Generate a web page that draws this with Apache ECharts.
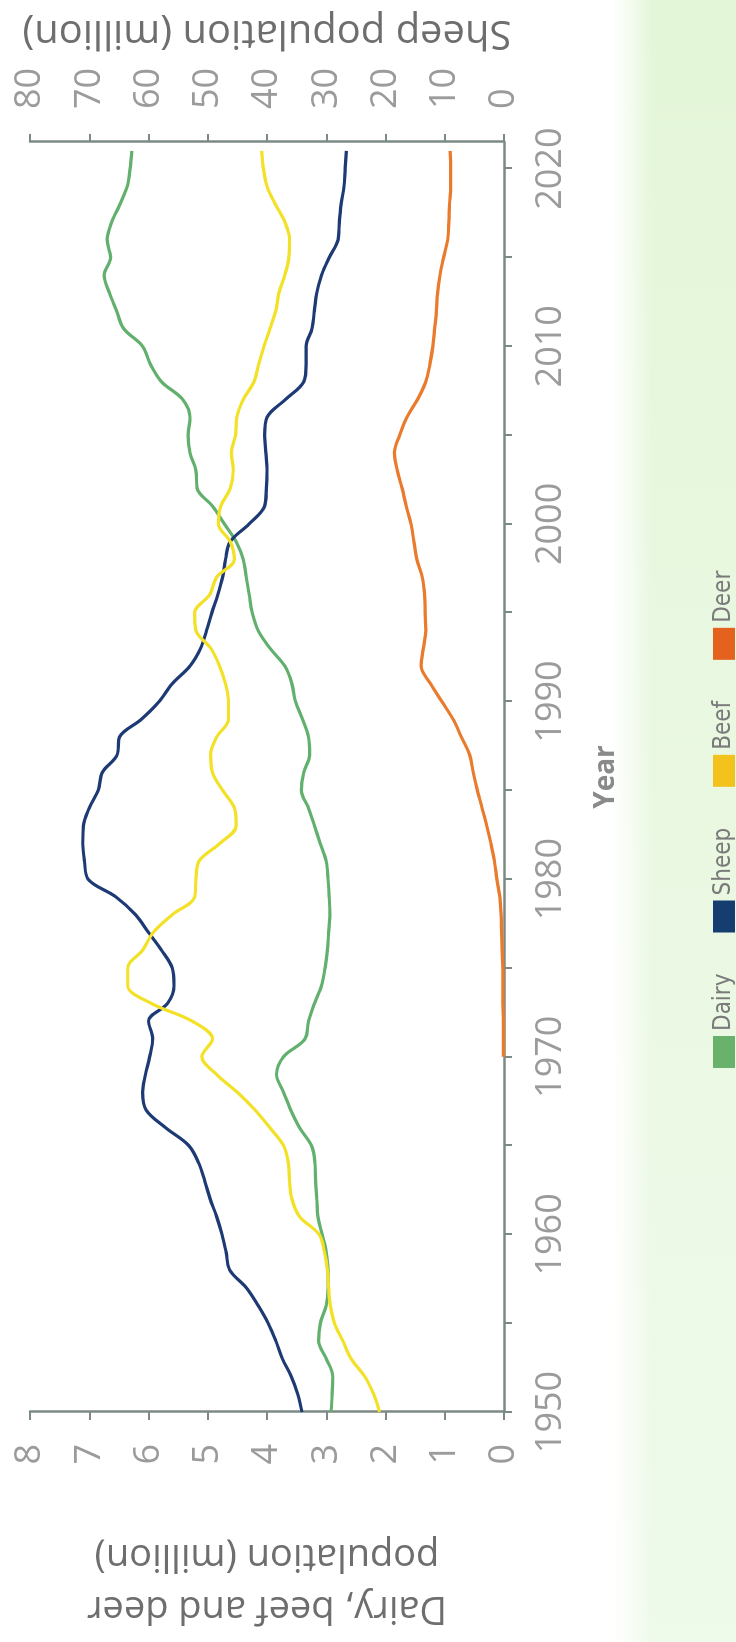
<!DOCTYPE html>
<html>
<head>
<meta charset="utf-8">
<script src="https://cdn.jsdelivr.net/npm/echarts@6/dist/echarts.min.js"></script>
<style>
  html, body { margin: 0; padding: 0; width: 736px; height: 1642px; overflow: hidden; background: #ffffff; }
  #chart { position: absolute; left: 0; top: 0; width: 1642px; height: 736px;
           transform-origin: 0 0; transform: translate(0px, 1642px) rotate(-90deg); }
</style>
</head>
<body>
<div id="chart"></div>
<script>
// ---- data (NZ livestock, million head) ----
const firstYear = 1950;
const yearTicks  = [1950, 1955, 1960, 1965, 1970, 1975, 1980, 1985, 1990, 1995, 2000, 2005, 2010, 2015, 2020];
const yearLabels = [1950, 1960, 1970, 1980, 1990, 2000, 2010, 2020];
const leftTicks  = [0, 1, 2, 3, 4, 5, 6, 7, 8];
const rightTicks = [0, 10, 20, 30, 40, 50, 60, 70, 80];

const dairy = [
  2.92, 2.90, 2.89, 3.00, 3.13, 3.10, 3.00, 2.97, 2.97, 3.00,
  3.07, 3.14, 3.16, 3.18, 3.19, 3.25, 3.45, 3.60, 3.72, 3.84,
  3.72, 3.36, 3.30, 3.20, 3.08, 3.02, 2.98, 2.96, 2.94, 2.95,
  2.97, 3.00, 3.10, 3.20, 3.30, 3.42, 3.38, 3.28, 3.30, 3.40,
  3.52, 3.58, 3.70, 3.95, 4.15, 4.25, 4.30, 4.35, 4.40, 4.52,
  4.72, 4.92, 5.18, 5.20, 5.30, 5.33, 5.30, 5.42, 5.78, 5.97,
  6.10, 6.42, 6.54, 6.66, 6.75, 6.64, 6.70, 6.62, 6.48, 6.36,
  6.31, 6.28
];
const sheep = [
  34.1, 34.8, 35.9, 37.4, 38.5, 39.8, 41.5, 43.5, 46.3, 46.9,
  47.6, 48.5, 49.6, 50.5, 51.5, 53.2, 57.1, 60.4, 61.0, 60.5,
  59.8, 59.3, 60.0, 56.8, 55.7, 56.0, 57.8, 60.0, 62.2, 65.5,
  70.2, 70.8, 71.1, 71.0, 70.0, 68.5, 67.8, 65.3, 64.9, 61.2,
  58.2, 56.0, 53.0, 51.2, 50.2, 49.3, 48.3, 47.5, 47.0, 46.2,
  43.0, 40.4, 40.1, 40.0, 40.2, 40.4, 40.0, 36.9, 33.8, 33.4,
  33.4, 32.4, 32.0, 31.6, 30.8, 29.5, 28.0, 27.8, 27.5, 27.0,
  26.8, 26.6
];
const beef = [
  2.10, 2.20, 2.35, 2.58, 2.72, 2.86, 2.93, 2.96, 2.98, 3.03,
  3.12, 3.45, 3.58, 3.62, 3.64, 3.72, 3.95, 4.20, 4.50, 4.85,
  5.10, 4.92, 5.26, 5.95, 6.35, 6.35, 6.10, 5.92, 5.60, 5.22,
  5.20, 5.15, 4.80, 4.52, 4.55, 4.75, 4.92, 4.95, 4.85, 4.65,
  4.65, 4.70, 4.80, 4.95, 5.20, 5.22, 4.97, 4.85, 4.55, 4.62,
  4.82, 4.78, 4.62, 4.57, 4.60, 4.53, 4.51, 4.40, 4.22, 4.14,
  4.05, 3.95, 3.85, 3.80, 3.70, 3.63, 3.62, 3.70, 3.86, 4.00,
  4.06, 4.09
];
const deer = [
  null, null, null, null, null, null, null, null, null, null,
  null, null, null, null, null, null, null, null, null, null,
  0.01, 0.01, 0.01, 0.02, 0.02, 0.02, 0.03, 0.04, 0.05, 0.07,
  0.12, 0.16, 0.22, 0.29, 0.37, 0.45, 0.52, 0.58, 0.72, 0.86,
  1.05, 1.24, 1.40, 1.36, 1.32, 1.33, 1.34, 1.38, 1.47, 1.52,
  1.57, 1.65, 1.72, 1.80, 1.85, 1.76, 1.64, 1.46, 1.32, 1.25,
  1.20, 1.17, 1.14, 1.12, 1.08, 1.02, 0.95, 0.93, 0.92, 0.90,
  0.90, 0.91
];
const seriesNames = ['Dairy', 'Sheep', 'Beef', 'Deer'];

// ---- styling ----
const lineColors   = ['#62b06d', '#1d3a74', '#f2e126', '#ea7a2c'];
const swatchColors = ['#69b26c', '#163d70', '#f4c21c', '#e4621d'];
const axisColor = '#7c8a87';
const labelColor = '#9b9b9b';
const nameColor = '#6e6e6e';
const FONT = '"Open Sans", "DejaVu Sans", sans-serif';

function pairs(arr) {
  return arr.map((v, i) => [firstYear + i, v]);
}

const chart = echarts.init(document.getElementById('chart'), null, { renderer: 'canvas', width: 1642, height: 736 });

const valueSeries = [dairy, sheep, beef, deer];

chart.setOption({
  animation: false,
  backgroundColor: '#ffffff',
  graphic: [
    { type: 'rect', z: -10, silent: true, shape: { x: 0, y: 612, width: 1642, height: 124 },
      style: { fill: new echarts.graphic.LinearGradient(0, 0, 1, 0, [
        { offset: 0, color: '#eefaea' }, { offset: 0.5, color: '#eaf8e2' }, { offset: 1, color: '#e4f6d8' }]) } },
    { type: 'rect', z: -9, silent: true, shape: { x: 0, y: 612, width: 1642, height: 40 },
      style: { fill: new echarts.graphic.LinearGradient(0, 0, 0, 1, [
        { offset: 0, color: 'rgba(255,255,255,1)' }, { offset: 0.5, color: 'rgba(255,255,255,0.55)' }, { offset: 1, color: 'rgba(255,255,255,0)' }]) } }
  ],
  grid: { left: 211, right: 142, top: 30, bottom: 232, containLabel: false },
  legend: {
    left: 574, top: 712, padding: 0, orient: 'horizontal',
    itemWidth: 32, itemHeight: 22, itemGap: 41, icon: 'rect',
    textStyle: { fontFamily: '"Liberation Sans Narrow", "DejaVu Sans Condensed", sans-serif', fontSize: 24, color: '#7a7a7a' },
    data: seriesNames.map((n, i) => ({ name: n, itemStyle: { color: swatchColors[i] } }))
  },
  xAxis: {
    type: 'value', min: 1950, max: 2021.5,
    name: 'Year', nameLocation: 'middle', nameGap: 88,
    nameTextStyle: { fontFamily: FONT, fontSize: 28, fontWeight: 'bold', color: '#8a8a8a' },
    axisLine: { show: true, lineStyle: { color: axisColor, width: 2.5 } },
    axisTick: { show: true, length: 8, lineStyle: { color: axisColor, width: 2 }, customValues: yearTicks },
    axisLabel: { fontFamily: FONT, fontSize: 36, color: labelColor, margin: 29, customValues: yearLabels,
                 formatter: v => String(v) },
    splitLine: { show: false }
  },
  yAxis: [
    {
      type: 'value', position: 'left', min: 0, max: 8,
      name: 'Dairy, beef and deer\npopulation (million)', nameLocation: 'middle', nameRotate: 90, nameGap: 118,
      nameTextStyle: { fontFamily: FONT, fontSize: 38, lineHeight: 52, color: nameColor },
      axisLine: { show: true, onZero: false, lineStyle: { color: axisColor, width: 2.5 } },
      axisTick: { show: true, length: 8, lineStyle: { color: axisColor, width: 2 }, customValues: leftTicks },
      axisLabel: { fontFamily: FONT, fontSize: 36, color: labelColor, margin: 32, customValues: leftTicks },
      splitLine: { show: false }
    },
    {
      type: 'value', position: 'right', min: 0, max: 80,
      name: 'Sheep population (million)', nameLocation: 'middle', nameRotate: 90, nameGap: 90,
      nameTextStyle: { fontFamily: FONT, fontSize: 40, color: nameColor },
      axisLine: { show: true, onZero: false, lineStyle: { color: axisColor, width: 2.5 } },
      axisTick: { show: true, length: 8, lineStyle: { color: axisColor, width: 2 }, customValues: rightTicks },
      axisLabel: { fontFamily: FONT, fontSize: 36, color: labelColor, margin: 33, customValues: rightTicks },
      splitLine: { show: false }
    }
  ],
  series: valueSeries.map((arr, i) => ({
    name: seriesNames[i],
    type: 'line',
    yAxisIndex: i === 1 ? 1 : 0,
    data: pairs(arr),
    showSymbol: false,
    smooth: 0.35,
    connectNulls: false,
    lineStyle: { color: lineColors[i], width: 3.2 },
    itemStyle: { color: swatchColors[i] },
    z: 2 + i
  }))
});
</script>
</body>
</html>
